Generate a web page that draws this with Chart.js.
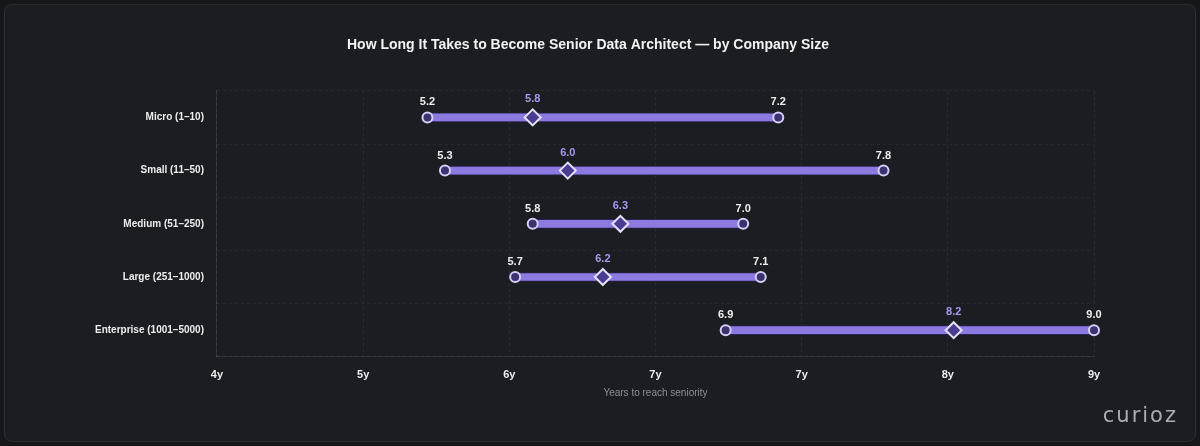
<!DOCTYPE html>
<html>
<head>
<meta charset="utf-8">
<script src="https://cdn.jsdelivr.net/npm/chart.js@4.4.1/dist/chart.umd.min.js"></script>
<style>
  html, body { margin: 0; padding: 0; background: #15171a; }
  .panel {
    position: absolute; left: 4px; top: 4px; width: 1190px; height: 436px;
    background: #1a1d21; border: 1px solid #2c3035; border-radius: 8px;
  }
  .wrap { position: absolute; left: 0; top: 0; width: 1200px; height: 446px; }
  .brand {
    position: absolute; right: 22px; top: 403px;
    font-family: "DejaVu Sans", sans-serif; font-size: 21px; letter-spacing: 2px;
    color: #a9adb3;
  }
</style>
</head>
<body>
<div class="panel"></div>
<div class="wrap"><canvas id="chart" width="1200" height="446"></canvas></div>
<div class="brand">curioz</div>
<script>
// Company size buckets and years to reach seniority
const categories = ['Micro (1–10)', 'Small (11–50)', 'Medium (51–250)', 'Large (251–1000)', 'Enterprise (1001–5000)'];
const minYears = [5.2, 5.3, 5.8, 5.7, 6.9];
const medianYears = [5.8, 6.0, 6.3, 6.2, 8.2];
const maxYears = [7.2, 7.8, 7.0, 7.1, 9.0];
const tickLabels = ['4y', '5y', '6y', '7y', '7y', '8y', '9y'];

const font = 'Liberation Sans, Arial, sans-serif';

// draw value labels above the dots
const valueLabels = {
  id: 'valueLabels',
  afterDatasetsDraw(chart) {
    const ctx = chart.ctx;
    ctx.save();
    ctx.textAlign = 'center';
    ctx.textBaseline = 'alphabetic';
    chart.data.datasets.forEach((ds, di) => {
      if (!ds.labelColor) return;
      const meta = chart.getDatasetMeta(di);
      meta.data.forEach((pt, i) => {
        ctx.font = 'bold 11px ' + font;
        ctx.fillStyle = ds.labelColor;
        ctx.fillText(ds.data[i].x.toFixed(1), pt.x, pt.y - ds.labelGap);
      });
    });
    ctx.restore();
  }
};

const toPoints = arr => arr.map((v, i) => ({ x: v, y: categories[i] }));

new Chart(document.getElementById('chart'), {
  type: 'bar',
  data: {
    labels: categories,
    datasets: [
      {
        label: 'Range',
        data: minYears.map((v, i) => [v, maxYears[i]]),
        backgroundColor: '#8c7ae0',
        borderColor: '#2b2452',
        borderWidth: 1,
        borderSkipped: false,
        barThickness: 9,
        order: 3
      },
      {
        type: 'scatter',
        label: 'Min',
        data: toPoints(minYears),
        pointStyle: 'circle',
        pointRadius: 5,
        backgroundColor: '#3b3270',
        borderColor: '#d6cff5',
        borderWidth: 2,
        labelColor: '#eceef1',
        labelGap: 12,
        clip: false,
        order: 1
      },
      {
        type: 'scatter',
        label: 'Max',
        data: toPoints(maxYears),
        pointStyle: 'circle',
        pointRadius: 5,
        backgroundColor: '#3b3270',
        borderColor: '#d6cff5',
        borderWidth: 2,
        labelColor: '#eceef1',
        labelGap: 12,
        clip: false,
        order: 1
      },
      {
        type: 'scatter',
        label: 'Median',
        data: toPoints(medianYears),
        pointStyle: 'rectRot',
        pointRadius: 8,
        backgroundColor: '#4a3c90',
        borderColor: '#e4e0f7',
        borderWidth: 2,
        labelColor: '#a598ee',
        labelGap: 15,
        clip: false,
        order: 0
      }
    ]
  },
  options: {
    indexAxis: 'y',
    responsive: false,
    animation: false,
    layout: { padding: { left: 82, right: 106, top: 37, bottom: 43 } },
    plugins: {
      legend: { display: false },
      tooltip: { enabled: false },
      title: {
        display: true,
        text: 'How Long It Takes to Become Senior Data Architect — by Company Size',
        color: '#f2f3f5',
        font: { family: font, size: 14, weight: 'bold' },
        padding: { top: 0, bottom: 37 }
      }
    },
    scales: {
      x: {
        type: 'linear',
        min: 4,
        max: 9,
        grid: {
          color: 'rgba(255,255,255,0.07)',
          tickLength: 0
        },
        border: { color: 'rgba(255,255,255,0.09)', dash: [3, 3] },
        ticks: {
          count: 7,
          color: '#eceef1',
          padding: 12,
          font: { family: font, size: 11, weight: 'bold' },
          callback: (value, index) => tickLabels[index]
        },
        title: {
          display: true,
          text: 'Years to reach seniority',
          color: '#8b9098',
          font: { family: font, size: 10 },
          padding: { top: -7 }
        }
      },
      y: {
        type: 'category',
        offset: true,
        grid: {
          color: 'rgba(255,255,255,0.05)',
          tickLength: 0
        },
        border: { color: 'rgba(255,255,255,0.09)', dash: [3, 3] },
        ticks: {
          color: '#eceef1',
          padding: 13,
          font: { family: font, size: 10, weight: 'bold' }
        }
      }
    }
  },
  plugins: [valueLabels]
});
</script>
</body>
</html>
